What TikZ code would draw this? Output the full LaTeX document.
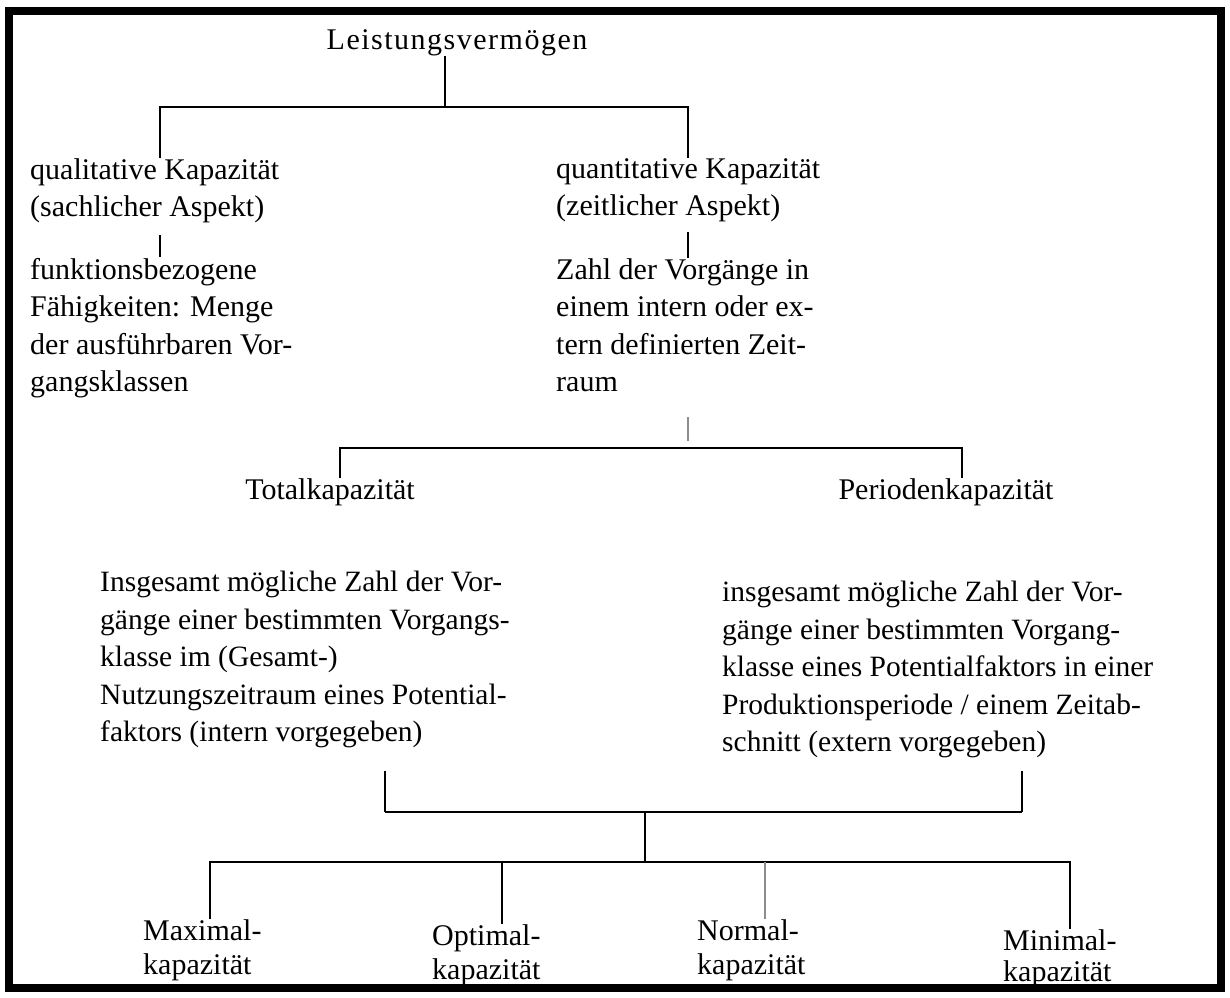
\documentclass[tikz,border=0pt]{standalone}
\usepackage{fontspec}
\setmainfont{Liberation Serif}
\newfontfamily\spacedserif[LetterSpace=5]{Liberation Serif}
\usepackage{tikz}
\usetikzlibrary{calc}
\tikzset{
    lbl/.style={inner sep=0pt, font=\fontsize{30}{37.5}\selectfont},
    para/.style={lbl, align=left, anchor=north west},
    parb/.style={para, font=\fontsize{29.5}{37.5}\selectfont},
    leaf/.style={para, font=\fontsize{30}{34}\selectfont},
    link/.style={line width=1.3pt, black},
    faint/.style={line width=1.1pt, black!45},
    frame/.style={line width=8pt, black}
}

\begin{document}
\begin{tikzpicture}[x=1pt, y=-1pt]
  \useasboundingbox (0,0) rectangle (1230,997);
  \draw [frame] (9,11) rectangle (1221,988);

  \node (lv) [lbl, anchor=mid, font=\spacedserif\fontsize{30}{37.5}\selectfont] at (457,47) {Leistungsverm\"ogen};
  \node (qual) [para] at (30,158) {qualitative Kapazit\"at\\(sachlicher Aspekt)};
  \node (quant) [para] at (556,158) {quantitative Kapazit\"at\\(zeitlicher Aspekt)};
  \node (func) [para] at (30,258) {funktionsbezogene\\F\"ahigkeiten: Menge\\der ausf\"uhrbaren Vor-\\gangsklassen};
  \node (zahl) [para] at (556,258) {Zahl der Vorg\"ange in\\einem intern oder ex-\\tern definierten Zeit-\\raum};
  \node (total) [lbl, anchor=mid] at (330,497) {Totalkapazit\"at};
  \node (period) [lbl, anchor=mid] at (946,497) {Periodenkapazit\"at};
  \node (insgl) [parb] at (100,571) {Insgesamt m\"ogliche Zahl der Vor-\\g\"ange einer bestimmten Vorgangs-\\klasse im (Gesamt-)\\Nutzungszeitraum eines Potential-\\faktors (intern vorgegeben)};
  \node (insgr) [parb] at (722,581) {insgesamt m\"ogliche Zahl der Vor-\\g\"ange einer bestimmten Vorgang-\\klasse eines Potentialfaktors in einer\\Produktionsperiode / einem Zeitab-\\schnitt (extern vorgegeben)};
  \node (maxk) [leaf] at (143,919) {Maximal-\\kapazit\"at};
  \node (optk) [leaf] at (432,924) {Optimal-\\kapazit\"at};
  \node (normk) [leaf] at (697,919) {Normal-\\kapazit\"at};
  \node (mink) [leaf, font=\fontsize{30}{31}\selectfont] at (1003,929) {Minimal-\\kapazit\"at};

  % top fork
  \coordinate (a) at (445,107);
  \coordinate (al) at (160,107);
  \coordinate (ar) at (688,107);
  \draw [link] (lv.south -| a) -- (a);
  \draw [link] (qual.north -| al) -- (al) -- (ar) -- (quant.north -| ar);
  \draw [link, shorten <=12pt, shorten >=1pt] (qual.south -| al) -- (func.north -| al);
  \draw [link, shorten <=10pt] (quant.south -| ar) -- (zahl.north -| ar);

  % second fork
  \coordinate (b) at (688,448);
  \coordinate (bl) at (340,448);
  \coordinate (br) at (962,448);
  \draw [faint, shorten <=25pt, shorten >=7pt] (zahl.south -| b) -- (b);
  \draw [link] (total.north -| bl) -- (bl) -- (br) -- (period.north -| br);

  % join and last fork
  \coordinate (c) at (645,812);
  \coordinate (cl) at (385,812);
  \coordinate (cr) at (1022,812);
  \draw [link, shorten <=23pt] (insgl.south -| cl) -- (cl);
  \draw [link, shorten <=13pt] (insgr.south -| cr) -- (cr);
  \draw [link, line width=2.2pt] (cl) -- (cr);
  \coordinate (d) at (645,862);
  \coordinate (d1) at (210,862);
  \coordinate (d2) at (502,862);
  \coordinate (d3) at (765,862);
  \coordinate (d4) at (1070,862);
  \draw [link] (c) -- (d);
  \draw [link] (maxk.north -| d1) -- (d1) -- (d4) -- (mink.north -| d4);
  \draw [link] (optk.north -| d2) -- (d2);
  \draw [faint] (normk.north -| d3) -- (d3);
\end{tikzpicture}
\end{document}
